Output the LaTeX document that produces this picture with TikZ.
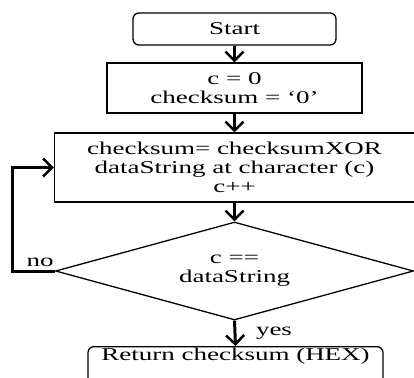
\documentclass[tikz,border=0pt]{standalone}
\usepackage{fontspec}
\setmainfont[FakeStretch=1.5]{Liberation Serif}
\usetikzlibrary{shapes.geometric,arrows.meta}
\begin{document}
\begin{tikzpicture}[x=1pt,y=1pt,
  txt/.style={font=\fontsize{18}{19}\selectfont},
  box/.style={draw,line width=1.3pt,inner sep=0pt,align=center,txt},
  rbox/.style={box,rounded corners=6pt},
  arr/.style={line width=3pt,-{Straight Barb[length=9pt,width=18pt,line width=2.5pt]}},
  lab/.style={txt,inner sep=0pt}]
\useasboundingbox (0,0) rectangle (414,-377);
\clip (0,0) rectangle (414,-377);
\fill[white] (0,0) rectangle (414,-377);
\node[rbox,minimum width=203pt,minimum height=32pt] (start) at (234.5,-29) {Start};
\node[box,minimum width=255pt,minimum height=50pt] (init) at (234.5,-88) {c = 0\\checksum = ‘0’};
\node[box,minimum width=360pt,minimum height=69pt] (loop) at (234.5,-167.5) {checksum= checksumXOR\\dataString at character (c)\\c++};
\node[draw,diamond,line width=1.3pt,minimum width=358pt,minimum height=98pt,inner sep=0pt] (dec) at (234.5,-271) {};
\node[lab,align=center] (dectext) at (dec.center) {c ==\\dataString};
\node[draw,line width=1.3pt,rounded corners=6pt,txt,minimum width=295pt,inner sep=4pt,text height=10pt,text depth=30pt,anchor=north] (ret) at (235.5,-346) {Return checksum (HEX)};
\draw[arr] (start) -- (init);
\draw[arr] (init) -- (loop);
\draw[arr] (loop.south) -- (dec.north);
\draw[arr] (dec.south) -- (ret.north);
\draw[arr] (dec.west) -- ++(-42.5,0) |- (loop.west);
\node[lab] (no) at (40,-262) {no};
\node[lab] (yes) at (274,-333) {yes};
\end{tikzpicture}
\end{document}
